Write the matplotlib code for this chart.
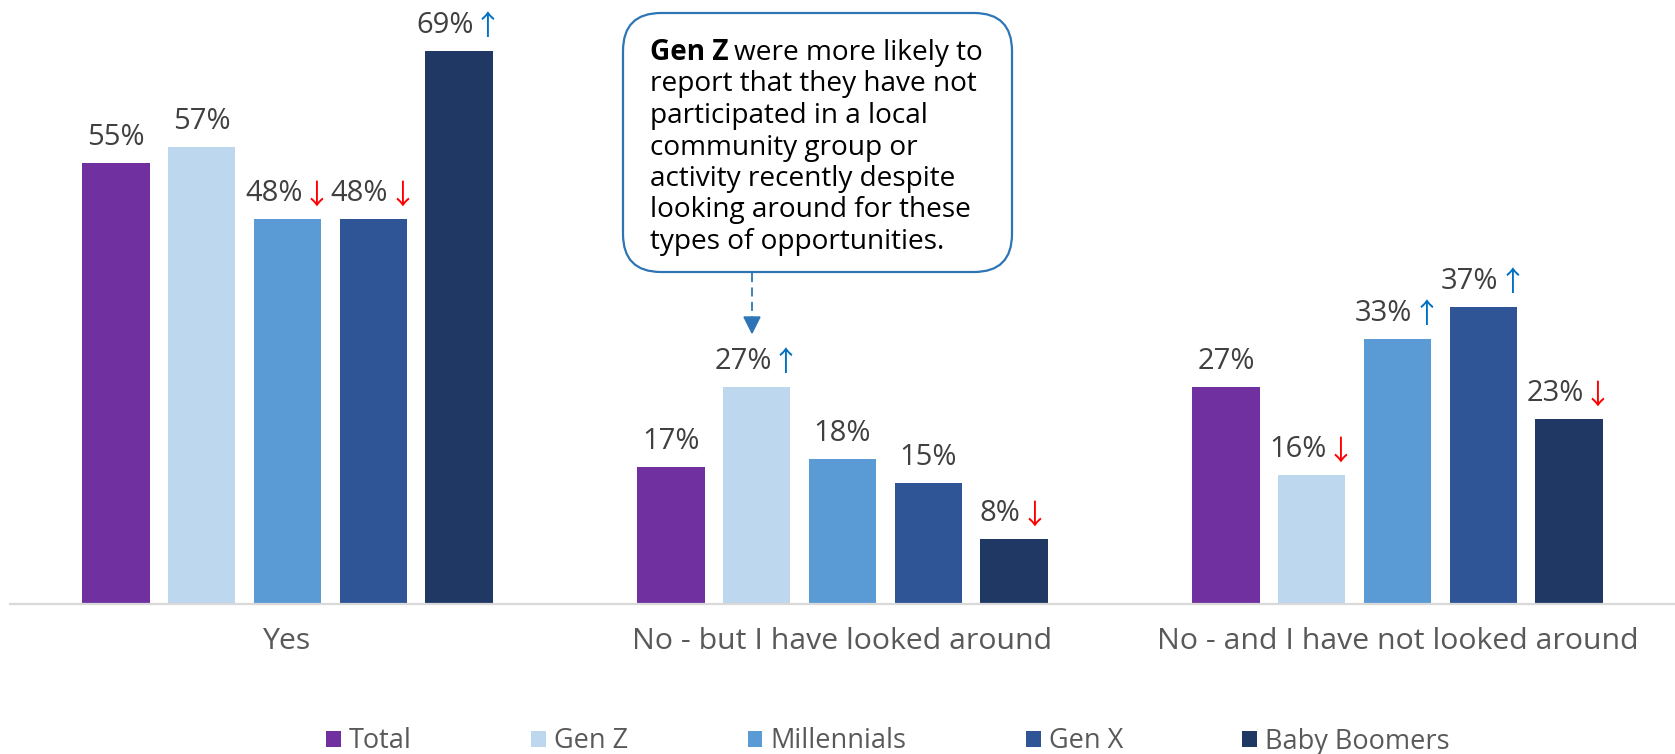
import matplotlib
matplotlib.use("Agg")
import matplotlib.pyplot as plt
from matplotlib.patches import FancyBboxPatch, Patch, Polygon
from matplotlib.lines import Line2D
from matplotlib.transforms import offset_copy, IdentityTransform
import numpy as np

plt.rcParams['font.family'] = ['Open Sans', 'DejaVu Sans']

categories = ["Yes", "No - but I have looked around", "No - and I have not looked around"]
series = ["Total", "Gen Z", "Millennials", "Gen X", "Baby Boomers"]
values = {
    "Total":        [55, 17, 27],
    "Gen Z":        [57, 27, 16],
    "Millennials":  [48, 18, 33],
    "Gen X":        [48, 15, 37],
    "Baby Boomers": [69, 8, 23],
}
# significance markers: 'up', 'down' or ''
signif = {
    "Total":        ["", "", ""],
    "Gen Z":        ["", "up", "down"],
    "Millennials":  ["down", "", "up"],
    "Gen X":        ["down", "", "up"],
    "Baby Boomers": ["up", "down", "down"],
}
colors = {
    "Total": "#7030A0",
    "Gen Z": "#BDD7EE",
    "Millennials": "#5B9BD5",
    "Gen X": "#2F5597",
    "Baby Boomers": "#203864",
}
callout_lines = [
    "were more likely to",
    "report that they have not",
    "participated in a local",
    "community group or",
    "activity recently despite",
    "looking around for these",
    "types of opportunities.",
]

W, H = 1675, 754
fig = plt.figure(figsize=(W / 100, H / 100), dpi=100)
ax = fig.add_axes([10 / W, (H - 603.5) / H, 1 - 10 / W, 603.5 / H])

x = np.arange(len(categories))
bar_w = 0.1213
step = 0.1544
for i, s in enumerate(series):
    off = (i - 2) * step
    ax.bar(x + off, values[s], width=bar_w, color=colors[s], zorder=2)

ax.set_xlim(-0.5, 2.5)
ax.set_ylim(0, 75.4)
for sp in ["top", "right", "left"]:
    ax.spines[sp].set_visible(False)
ax.spines["bottom"].set_color("#D9D9D9")
ax.spines["bottom"].set_linewidth(1.6)
ax.set_yticks([])
ax.set_xticks(x)
ax.set_xticklabels(categories, fontsize=21.8, color="#595959")
ax.tick_params(axis="x", length=0, pad=17)

renderer = fig.canvas.get_renderer()
arrow_chars = {"up": ("\u2191", "#0070C0"), "down": ("\u2193", "#FF0000")}
for i, s in enumerate(series):
    off = (i - 2) * step
    for j, v in enumerate(values[s]):
        xc = x[j] + off
        label = f"{v}%"
        t = ax.text(xc, v, label, fontsize=21, color="#404040",
                    ha="left", va="baseline")
        wn = t.get_window_extent(renderer).width
        mark = signif[s][j]
        if mark:
            ch, col = arrow_chars[mark]
            ta = ax.text(xc, v, ch, fontsize=20, color=col,
                         family=["Noto Sans CJK JP", "DejaVu Sans"],
                         ha="left", va="baseline")
            wa = ta.get_window_extent(renderer).width
            gap = 0
            total = wn + gap + wa
            t.set_transform(offset_copy(ax.transData, fig, x=-total / 2, y=18, units="dots"))
            ta.set_transform(offset_copy(ax.transData, fig, x=-total / 2 + wn + gap, y=16, units="dots"))
        else:
            t.set_transform(offset_copy(ax.transData, fig, x=-wn / 2, y=18, units="dots"))

# legend
handles = [Patch(facecolor=colors[s], edgecolor="none") for s in series]
fig.legend(handles, series, loc="center", bbox_to_anchor=(888 / W, (H - 741.5) / H),
           ncol=5, frameon=False, fontsize=19.5, columnspacing=4.4,
           handlelength=0.55, handleheight=0.55, handletextpad=0.3,
           labelcolor="#595959", borderpad=0)

# callout box (display pixel coordinates)
box = FancyBboxPatch((623, H - 272), 389, 259,
                     boxstyle="round,pad=0,rounding_size=38",
                     transform=IdentityTransform(), facecolor="white",
                     edgecolor="#2E75B6", linewidth=1.6, zorder=5)
fig.add_artist(box)

fs_c = 20.2
tx = 650 / W
base0 = 60
lh = 31.5
tb = fig.text(tx, 1 - base0 / H, "Gen Z", fontsize=fs_c, fontweight="bold",
              color="black", ha="left", va="baseline", zorder=6)
wb = tb.get_window_extent(renderer).width
sp_w = 6
fig.text((650 + wb + sp_w) / W, 1 - base0 / H, callout_lines[0], fontsize=fs_c,
         color="black", ha="left", va="baseline", zorder=6)
for k, line in enumerate(callout_lines[1:], start=1):
    fig.text(tx, 1 - (base0 + k * lh) / H, line, fontsize=fs_c, color="black",
             ha="left", va="baseline", zorder=6)

# dashed pointer arrow
ax_x = 752
fig.add_artist(Line2D([ax_x, ax_x], [H - 273, H - 318], transform=IdentityTransform(),
                      color="#2E75B6", linewidth=1.3, linestyle=(0, (5, 3))))
fig.add_artist(Polygon([[ax_x - 8, H - 317], [ax_x + 8, H - 317], [ax_x, H - 333]],
                       closed=True, transform=IdentityTransform(),
                       facecolor="#2E75B6", edgecolor="#2E75B6"))

fig.savefig("out.png", dpi=100)
